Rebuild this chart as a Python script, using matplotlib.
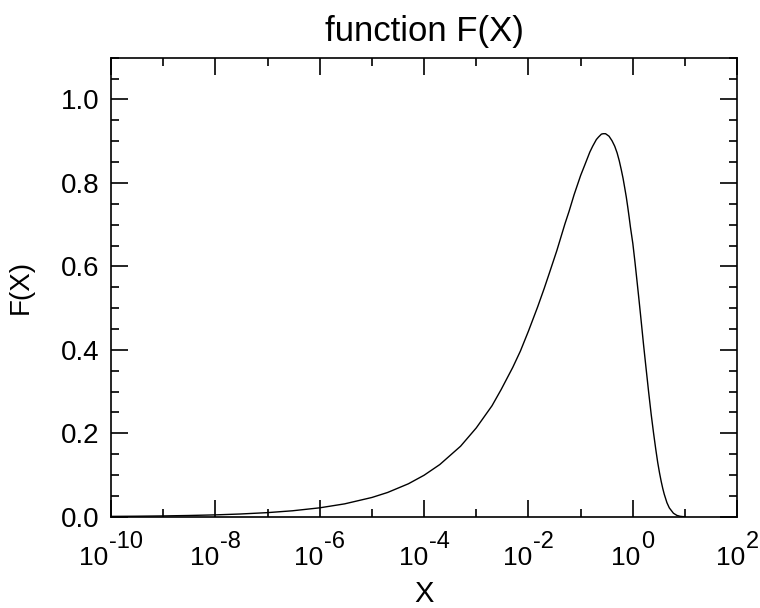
import numpy as np
import matplotlib
matplotlib.use('Agg')
import matplotlib.pyplot as plt
from matplotlib.ticker import FixedLocator, MultipleLocator, NullFormatter

# values
x_vals = [1e-10, 3e-10, 1e-9, 3e-9, 1e-8, 3e-8, 1e-7, 3e-7, 1e-6, 3e-6,
          1e-5, 2e-5, 5e-5, 1e-4, 2e-4, 5e-4, 1e-3, 2e-3, 3e-3, 5e-3,
          7e-3, 0.01, 0.015, 0.02, 0.025, 0.035, 0.05, 0.06, 0.075, 0.085,
          0.1, 0.12, 0.15, 0.17, 0.2, 0.22, 0.25, 0.27, 0.3, 0.35,
          0.4, 0.45, 0.5, 0.55, 0.6, 0.65, 0.7, 0.75, 0.8, 0.85,
          0.9, 0.95, 1.0, 1.1, 1.2, 1.3, 1.4, 1.5, 1.6, 1.7,
          1.8, 1.9, 2.0, 2.25, 2.5, 2.75, 3.0, 3.25, 3.5, 3.75,
          4.0, 4.5, 5.0, 6.0, 7.0, 8.0, 9.0, 10.0]
f_vals = [0.0010, 0.0014, 0.0021, 0.0031, 0.0046, 0.0067, 0.0100, 0.0144, 0.0215, 0.0310,
          0.0463, 0.0583, 0.0791, 0.0996, 0.1252, 0.1691, 0.2130, 0.2660, 0.3050, 0.3580,
          0.3970, 0.4450, 0.5030, 0.5470, 0.5830, 0.6380, 0.7020, 0.7320, 0.7720, 0.7920,
          0.8180, 0.8430, 0.8740, 0.8880, 0.9040, 0.9100, 0.9170, 0.9180, 0.9180, 0.9120,
          0.9010, 0.8880, 0.8720, 0.8530, 0.8320, 0.8110, 0.7880, 0.7660, 0.7420, 0.7180,
          0.6940, 0.6740, 0.6550, 0.6100, 0.5660, 0.5250, 0.4860, 0.4490, 0.4140, 0.3830,
          0.3540, 0.3270, 0.3010, 0.2450, 0.2000, 0.1620, 0.1300, 0.1050, 0.0845, 0.0677,
          0.0541, 0.0339, 0.0214, 0.0085, 0.0033, 0.0013, 0.0005, 0.00019]

major_exp = [-10, -8, -6, -4, -2, 0, 2]
minor_exp = [-9, -7, -5, -3, -1, 1]

plt.rcParams['font.family'] = ['Liberation Sans', 'DejaVu Sans']

fig = plt.figure(figsize=(7.6, 6.08), dpi=100)
ax = fig.add_axes([0.146, 0.150, 0.824, 0.755])

ax.plot(x_vals, f_vals, color='black', lw=1.0)
ax.set_xscale('log')
ax.set_xlim(1e-10, 1e2)
ax.set_ylim(0.0, 1.1)

ax.xaxis.set_major_locator(FixedLocator([10.0**e for e in major_exp]))
ax.xaxis.set_minor_locator(FixedLocator([10.0**e for e in minor_exp]))
ax.xaxis.set_major_formatter(NullFormatter())
ax.xaxis.set_minor_formatter(NullFormatter())
ax.yaxis.set_major_locator(MultipleLocator(0.2))
ax.yaxis.set_minor_locator(MultipleLocator(0.05))

ax.tick_params(which='both', direction='in', top=True, right=True, width=1.2)
ax.tick_params(which='major', length=12)
ax.tick_params(which='minor', length=6)
ax.tick_params(axis='y', labelsize=20, pad=8)
for s in ax.spines.values():
    s.set_linewidth(1.2)

# x tick labels: "10" plus a raised, large exponent, centred on the tick
renderer = fig.canvas.get_renderer()
for e in major_exp:
    base = ax.annotate('10', xy=(10.0**e, 0), xycoords=('data', 'axes fraction'),
                       xytext=(0, -48), textcoords='offset pixels',
                       ha='left', va='baseline', fontsize=19)
    sup = ax.annotate(str(e), xy=(10.0**e, 0), xycoords=('data', 'axes fraction'),
                      xytext=(0, -31), textcoords='offset pixels',
                      ha='left', va='baseline', fontsize=17)
    w1 = base.get_window_extent(renderer).width
    w2 = sup.get_window_extent(renderer).width
    left = -(w1 + 1 + w2) / 2
    base.xyann = (left, -48)
    sup.xyann = (left + w1 + 1, -31)

ax.set_title('function F(X)', fontsize=25, pad=12)
ax.set_xlabel('X', fontsize=21, va='top')
ax.xaxis.set_label_coords(0.5, -0.138)
ax.set_ylabel('F(X)', fontsize=20, labelpad=20)

fig.savefig('out.png', dpi=100)
